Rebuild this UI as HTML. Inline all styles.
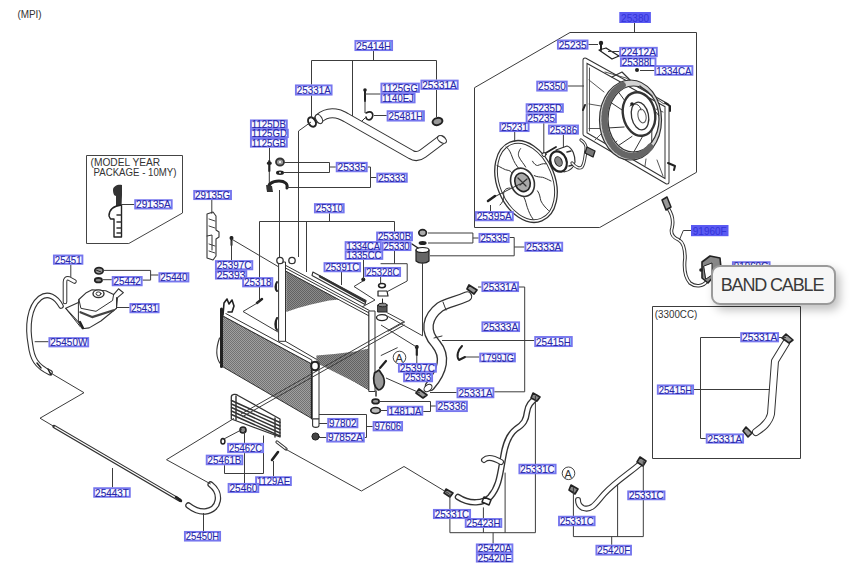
<!DOCTYPE html>
<html><head><meta charset="utf-8"><style>
html,body{margin:0;padding:0;background:#fff;width:852px;height:563px;overflow:hidden}
svg{position:absolute;left:0;top:0}
.lb{fill:#f8f8ff;stroke:#7676ee;stroke-width:1.9}
.lt{font-family:"Liberation Sans",sans-serif;font-size:11.2px;fill:#2626a8;stroke:#2626a8;stroke-width:0.12}
.lf{font-family:"Liberation Sans",sans-serif;font-size:11.2px;fill:#3434d8}
.ld{fill:none;stroke:#3c3c3c;stroke-width:1}
.pt{fill:none;stroke:#2a2a2a;stroke-width:1}
#band{position:absolute;left:711px;top:264.5px;width:121px;height:36.5px;border:2px solid #9a9a9a;border-radius:9px;background:#f6f6f6;
box-shadow:4px 5px 10px rgba(0,0,0,0.25);font-family:"Liberation Sans",sans-serif;font-size:18px;color:#3a3a3a;line-height:36px;text-align:center;letter-spacing:-1.15px;text-indent:-3px}
</style></head><body>
<svg width="852" height="563" viewBox="0 0 852 563">
<text x="17.4" y="18.4" textLength="24.3" lengthAdjust="spacingAndGlyphs" style="font-family:'Liberation Sans',sans-serif;font-size:10px;fill:#333">(MPI)</text>
<defs>
<pattern id="hat" width="2" height="2" patternUnits="userSpaceOnUse">
<rect width="2" height="2" fill="#8c8c8c"/>
<rect x="0" y="0" width="1" height="1" fill="#626262"/>
<rect x="1" y="1" width="1" height="1" fill="#626262"/>
</pattern>
<pattern id="hat2" width="2" height="2" patternUnits="userSpaceOnUse">
<rect width="2" height="2" fill="#a0a0a0"/>
<rect x="0" y="0" width="1" height="1" fill="#727272"/>
<rect x="1" y="1" width="1" height="1" fill="#727272"/>
</pattern>
</defs>
<g stroke-linejoin="round" stroke-linecap="round">
<!-- ===== upper hose 25414H ===== -->
<path d="M319 118.5C324 114 330 112.5 336 113.5C340 114 342 115.5 346 117.5L411 154.5C415 157 419 156.5 423 153.5L441 140" fill="none" stroke="#333" stroke-width="10"/>
<path d="M319 118.5C324 114 330 112.5 336 113.5C340 114 342 115.5 346 117.5L411 154.5C415 157 419 156.5 423 153.5L441 140" fill="none" stroke="#fff" stroke-width="7.9"/>
<ellipse cx="319" cy="119" rx="3" ry="5" transform="rotate(-30 319 119)" fill="#fff" stroke="#333" stroke-width="1.1"/>
<ellipse cx="442" cy="139.5" rx="3" ry="5" transform="rotate(-55 442 139.5)" fill="#fff" stroke="#333" stroke-width="1.1"/>
<ellipse cx="312" cy="122" rx="3.5" ry="5" transform="rotate(-30 312 122)" fill="#fff" stroke="#222" stroke-width="2"/>
<ellipse cx="437.5" cy="121.5" rx="5" ry="3.5" transform="rotate(-15 437.5 121.5)" fill="#999" stroke="#222" stroke-width="2"/>
<!-- 1125GG bolt & 25481H clip -->
<path d="M365 90V101" stroke="#222" stroke-width="2"/><circle cx="365" cy="90" r="1.8" fill="#222"/>
<path d="M366 113C372 110 374 114 372 118C370 121 366 120 366 117" fill="none" stroke="#222" stroke-width="1.6"/>
<path d="M365 118L362 121" stroke="#333" stroke-width="1"/>
<!-- 1125DB bolt, 25335 nut, washer, bracket -->
<path d="M269.3 161V171" stroke="#222" stroke-width="2.2"/><ellipse cx="269.3" cy="163.3" rx="2.6" ry="1.8" fill="#222"/>
<path d="M269.3 171V186" stroke="#333" stroke-width="1"/>
<ellipse cx="280" cy="162" rx="4" ry="3.5" fill="#999" stroke="#333" stroke-width="1.8"/><circle cx="280" cy="162" r="1.1" fill="#fff"/>
<ellipse cx="280" cy="172.7" rx="4" ry="2.2" fill="#222"/><circle cx="280" cy="172.7" r="0.9" fill="#fff"/>
<path d="M268.5 190C267.5 184 272 181 279 181C285 181 288 184 287 188" fill="none" stroke="#222" stroke-width="3"/>
<path d="M274 187C275 184.5 281 184 283.5 186.5" fill="none" stroke="#fff" stroke-width="1.4"/>
<path d="M266 185L267 192L273 192L272 186Z" fill="#333"/>
<!-- 29135A bracket (model year) -->
<path d="M113 190C113 186 118 184 122 185L122 195L121.5 207L116 206V196C114 196 113 193 113 190Z" fill="#333"/>
<path d="M109 216C109 210 113 206 121.5 205V237L114 237V219L110.5 219Z" fill="#fff" stroke="#222" stroke-width="1.4"/>
<path d="M117 215H121M117 222H121M117 228H121M117 233H121" stroke="#333" stroke-width="1.5"/>
<!-- 29135G bracket -->
<path d="M207 214L213 212L216 216V230L219 232V237L216 239V256L213 260L207 258Z" fill="#fff" stroke="#333" stroke-width="1.1"/>
<path d="M209 219L215 221M209 226L215 228M209 244L215 246M209 251L215 253" stroke="#444" stroke-width="1"/>
<path d="M207 236L212 235V250" fill="none" stroke="#333" stroke-width="1"/>
<!-- 25397C bolt -->
<path d="M231.5 237V245" stroke="#222" stroke-width="2"/><circle cx="231.5" cy="238" r="2" fill="#222"/>
<!-- ===== reservoir tank 25431 ===== -->
<path d="M65.7 308.3L78.4 302.5L78.9 299.5L86.3 292.7L92.1 289.8L105.8 290.7L113.6 294.6L118.5 288.8L123.4 292.7L117.5 297.6L116.5 308.3L100.9 321L89.2 327.9L82.3 328.8L78.4 322Z" fill="#fff" stroke="#333" stroke-width="1.1"/>
<path d="M78.9 299.5L80.9 308.3L96 311.3L112.6 300.5L113.6 294.6M78.4 302.5V322M65.7 308.3L80.4 326.9M116.5 297.6V308.3" fill="none" stroke="#333" stroke-width="1"/>
<path d="M80.4 312.2L92.1 317.1L113.6 310.3" fill="none" stroke="#444" stroke-width="2.2"/>
<path d="M80 322L83 328" stroke="#222" stroke-width="2.2"/>
<ellipse cx="98.5" cy="293.7" rx="5.5" ry="3.8" fill="#fff" stroke="#333" stroke-width="1.4"/>
<ellipse cx="98.5" cy="293.7" rx="2.5" ry="1.8" fill="none" stroke="#333" stroke-width="1"/>
<ellipse cx="99" cy="270.8" rx="4.2" ry="3.2" fill="#999" stroke="#222" stroke-width="1.7"/>
<path d="M96 270L101 272" stroke="#222" stroke-width="1"/>
<ellipse cx="98.4" cy="280.2" rx="3.6" ry="2.2" fill="#888" stroke="#222" stroke-width="1.8"/>
<!-- hose 25451 -->
<path d="M74.5 281.5L69 278.5Q65 277.5 65 282V302" fill="none" stroke="#333" stroke-width="4.6"/>
<path d="M74.5 281.5L69 278.5Q65 277.5 65 282V302" fill="none" stroke="#fff" stroke-width="2.6"/>
<!-- hose 25450W -->
<path d="M61 306C56 297 48 292 40 298C29 307 27 326 30.5 345C32 358 36 366 50 372.6" fill="none" stroke="#333" stroke-width="5.6"/>
<path d="M61 306C56 297 48 292 40 298C29 307 27 326 30.5 345C32 358 36 366 50 372.6" fill="none" stroke="#fff" stroke-width="3.4"/>
<path d="M37 363L41 368M48 369L51 375" stroke="#222" stroke-width="1.5"/>
<!-- rod 25443T -->
<path d="M54 426.5L180 500.3" stroke="#333" stroke-width="3.4"/>
<path d="M55 427L179 499.5" stroke="#fff" stroke-width="1.3"/>
<path d="M176 497L181 501" stroke="#222" stroke-width="2.5"/>
<!-- hose 25450H -->
<path d="M210.7 484.5C222 493 220 510 205 511.5C198 512 193 509 188.5 505.5" fill="none" stroke="#333" stroke-width="6.5"/>
<path d="M210.7 484.5C222 493 220 510 205 511.5C198 512 193 509 188.5 505.5" fill="none" stroke="#fff" stroke-width="4"/>
<!-- ===== radiator ===== -->
<path d="M285.5 268L369.2 313V390L285.5 341.3Z" fill="#fff" stroke="#333" stroke-width="1"/>
<path d="M286.2 271L339.5 299.5L329 300.5L311 304.5L298 308L286.2 312Z" fill="url(#hat)"/>
<path d="M316.4 355.4L334.4 354L355 351.6L368.6 348.5V389L316.4 363Z" fill="url(#hat)"/>
<path d="M285.5 265.3L369.2 310.4M285.5 271L369.2 316" stroke="#333" stroke-width="1"/>
<path d="M279 262H285.5V341.3H279Z" fill="#fff" stroke="#333" stroke-width="1"/>
<path d="M369.2 311H375V391.5H369.2Z" fill="#fff" stroke="#333" stroke-width="1"/>
<circle cx="280" cy="260.5" r="3.2" fill="#fff" stroke="#333" stroke-width="1.3"/>
<circle cx="292" cy="260.5" r="3.2" fill="#fff" stroke="#333" stroke-width="1.3"/>
<path d="M277 282C275 285 275 289 277 291M277 318C275 322 275 327 277 330" fill="#333" stroke="#222" stroke-width="2"/>
<!-- ===== condenser ===== -->
<path d="M223 316L311.8 364V418.5L222 366.3Z" fill="url(#hat2)" stroke="#333" stroke-width="1"/>
<path d="M223 312L311.8 360V364L223 316Z" fill="#fff" stroke="#333" stroke-width="1"/>
<path d="M221.5 309V366.5" stroke="#222" stroke-width="3"/>
<path d="M223 315L224 303L227 299L229 304L232 300L234 306L232 312L228 312" fill="#fff" stroke="#222" stroke-width="1.6"/>
<path d="M219.5 338C216 348 216 358 220.5 364" fill="none" stroke="#333" stroke-width="1.1"/>
<path d="M311.8 362H319V419H311.8Z" fill="#fff" stroke="#333" stroke-width="1"/>
<path d="M311.8 364V418" stroke="#222" stroke-width="1.8"/>
<ellipse cx="315" cy="366" rx="3.8" ry="4.2" fill="#fff" stroke="#222" stroke-width="2"/>
<!-- 25391C strip -->
<path d="M312.9 272L366 300.5L365 304.5L312 275.5Z" fill="#fff" stroke="#333" stroke-width="1.1"/>
<path d="M320 276.5L365 301.5" stroke="#333" stroke-width="2.4"/>
<!-- cap/neck 25330 & 25328C -->
<ellipse cx="382" cy="285.6" rx="3.4" ry="2.1" fill="#fff" stroke="#222" stroke-width="1.6"/>
<path d="M378 291H387L388 296H378Z" fill="#fff" stroke="#222" stroke-width="1.2"/>
<path d="M382.5 299V305" stroke="#222" stroke-width="1"/>
<path d="M378 305H387V312H378Z" fill="#555" stroke="#222" stroke-width="1"/>
<ellipse cx="382.5" cy="305" rx="4.5" ry="1.8" fill="#888" stroke="#222" stroke-width="1"/>
<ellipse cx="382" cy="317.6" rx="5.5" ry="3" fill="#fff" stroke="#222" stroke-width="1.3"/>

<circle cx="363.3" cy="279.6" r="2" fill="#222"/>
<!-- 25318 bolt -->
<path d="M257 303L262 299" stroke="#222" stroke-width="2.5"/>
<!-- right nuts for 25335 / 25333A -->
<ellipse cx="422.6" cy="232.8" rx="3.8" ry="3.2" fill="#aaa" stroke="#222" stroke-width="1.7"/>
<ellipse cx="422.6" cy="243" rx="4" ry="2" fill="#222"/>
<path d="M416 250H429V261C426 264 419 264 416 261Z" fill="#666" stroke="#222" stroke-width="1.2"/>
<ellipse cx="422.5" cy="250" rx="6.5" ry="2.5" fill="#fff" stroke="#222" stroke-width="1.2"/>
<path d="M412 244L418 248" stroke="#222" stroke-width="1.5"/>
<!-- lower radiator stuff -->
<path d="M380 368L386 361" stroke="#222" stroke-width="2.2"/>
<path d="M374.5 373C372.5 380 374 387 378.5 390C383.5 389 386 383 383 376L379 370Z" fill="#999" stroke="#222" stroke-width="1.7"/>
<path d="M376 391V396" stroke="#333" stroke-width="1.5"/>
<ellipse cx="375.6" cy="401.4" rx="3.5" ry="2.3" fill="#999" stroke="#222" stroke-width="1.7"/>
<ellipse cx="375.6" cy="410.5" rx="4.8" ry="3" fill="#bbb" stroke="#222" stroke-width="1.7"/>
<circle cx="315.5" cy="436.5" r="3.6" fill="#444" stroke="#222" stroke-width="1"/>
<path d="M312.6 419V425.5C312.6 428 319 428 319 425.5V419Z" fill="#fff" stroke="#333" stroke-width="1.1"/>
<!-- ===== lower hose 25415H ===== -->
<path d="M467 296.5C455 302 448 302 440 307C427 317 424 331 436 344C446 356 443 371 430 386" fill="none" stroke="#333" stroke-width="10.6"/>
<path d="M467 296.5C455 302 448 302 440 307C427 317 424 331 436 344C446 356 443 371 430 386" fill="none" stroke="#fff" stroke-width="8"/>
<path d="M443 302L446 310M434 338L442 336" stroke="#333" stroke-width="1"/>
<ellipse cx="428" cy="388" rx="3" ry="4.5" transform="rotate(50 428 388)" fill="#fff" stroke="#333" stroke-width="1.1"/>
<path d="M469 285L477 290L474 294L467 289Z" fill="#999" stroke="#222" stroke-width="1.7"/>
<path d="M419 389L427 395L423 398L416 393Z" fill="#999" stroke="#222" stroke-width="1.7"/>
<path d="M416.8 346V355" stroke="#222" stroke-width="2.2"/><circle cx="416.8" cy="347" r="2" fill="#222"/>
<path d="M462 346C458 350 456 356 459 360L465 357" fill="none" stroke="#222" stroke-width="2"/>
<!-- ===== oil cooler 25460 ===== -->
<path d="M231.3 397C231.3 394 236 393.5 238 395.5L280 419V437L231.3 419Z" fill="#fff" stroke="#333" stroke-width="1.3"/>
<path d="M231.5 400.5L280 422.5M231.5 404L280 426M231.5 407.5L280 429.5M231.5 411L280 433M231.5 414.5L280 436" stroke="#333" stroke-width="1.5"/>
<path d="M275 418V437M236 396V420" stroke="#333" stroke-width="1.4"/>
<ellipse cx="243" cy="430" rx="3" ry="3" fill="#888" stroke="#222" stroke-width="1.6"/>
<ellipse cx="222.9" cy="441.3" rx="2" ry="2.8" fill="#fff" stroke="#222" stroke-width="1.5"/>
<path d="M277 442L286 449" stroke="#333" stroke-width="3.2"/><path d="M277 442L286 449" stroke="#fff" stroke-width="1.2"/>
<path d="M272 460L278 452" stroke="#222" stroke-width="2.6"/>
<!-- ===== fan enclosure ===== -->
<path d="M585 60L667 105.5V182L585 134Z" fill="none" stroke="#333" stroke-width="5"/>
<path d="M585 60L667 105.5V182L585 134Z" fill="none" stroke="#fff" stroke-width="3"/>
<path d="M589.5 68V131M589 128.5H606M595 140L604 131M612 146L617 141M630 157L633 152M645 166L646 159M657 160L663 176M589 80L604 92M663 112L656 109M589 104L601 106" fill="none" stroke="#444" stroke-width="0.9"/>
<path d="M605 72L626 78L664 104" fill="none" stroke="#444" stroke-width="0.9"/>
<path d="M599.5 120A31 40 0 1 0 661.5 120A31 40 0 1 0 599.5 120ZM608 119A25.5 33 0 1 0 659 119A25.5 33 0 1 0 608 119Z" fill="#d4d4d4" fill-rule="evenodd" stroke="#333" stroke-width="1.2"/>
<path d="M622.6 85.2 L620.8 86.2 L619.1 87.3 L617.4 88.5 L615.8 90.0 L614.3 91.5 L612.9 93.2 L611.6 95.1 L610.3 97.0 L609.2 99.1 L608.2 101.2 L607.3 103.5 L606.5 105.8 L605.8 108.2 L605.3 110.7 L604.9 113.2 L604.7 115.7 L604.5 118.2 L604.5 120.8 L604.7 123.3 L604.9 125.8 L605.3 128.3 L605.8 130.8 L606.5 133.2 L607.3 135.5 L608.2 137.8 L609.2 139.9 L610.3 142.0 L611.6 143.9 L612.9 145.8 L614.3 147.5 L615.8 149.0 L617.4 150.5 L619.1 151.7 L620.8 152.8 L622.6 153.8 L624.4 154.6 L626.3 155.2 L628.2 155.6 L630.1 155.9 L632.0 156.0 L633.9 155.9 L635.8 155.6 L637.7 155.2 L639.6 154.6 L641.4 153.8 L643.2 152.8 L644.9 151.7 L646.6 150.5 L648.2 149.0 L649.7 147.5 L651.1 145.8" fill="none" stroke="#666" stroke-width="6.5" stroke-dasharray="1.3 2.4"/>
<path d="M622.5 110.3L611.3 102.8M624.1 127.0L608.9 127.9M632.0 136.4L618.4 145.6M642.1 137.3L633.8 152.0M651.9 127.0L651.7 142.1M653.0 108.5L658.9 115.7M625.7 101.9L618.6 92.2" stroke="#333" stroke-width="1"/>
<ellipse cx="639" cy="114" rx="16" ry="22" transform="rotate(-12 639 114)" fill="#fff" stroke="#333" stroke-width="2.4"/>
<ellipse cx="640" cy="116" rx="8.5" ry="14" transform="rotate(-12 640 116)" fill="#fff" stroke="#333" stroke-width="1.3"/>
<ellipse cx="642" cy="116" rx="4" ry="7" transform="rotate(-12 642 116)" fill="none" stroke="#555" stroke-width="1"/>
<path d="M630 106C634 102 640 104 641 110" fill="none" stroke="#333" stroke-width="1"/>
<circle cx="632" cy="104" r="1.8" fill="#222"/>
<path d="M612 77L622 72L630 80M640 86L652 96" fill="none" stroke="#333" stroke-width="1.2"/>
<path d="M665 103L670 106V111M668 163L675 166L674 170" fill="none" stroke="#222" stroke-width="2"/>
<path d="M599 50L606 48L619 56L612 59Z" fill="#fff" stroke="#222" stroke-width="1.3"/>
<path d="M601 42V50" stroke="#222" stroke-width="2"/><circle cx="601" cy="43" r="2.2" fill="#222"/>
<circle cx="637" cy="70" r="2" fill="#222"/>
<path d="M585 105L583 110" stroke="#222" stroke-width="2"/>
<!-- ===== fan 25231 ===== -->
<ellipse cx="526" cy="181.5" rx="29" ry="42.5" transform="rotate(-22 526 181.5)" fill="#fff" stroke="#333" stroke-width="1.3"/>
<ellipse cx="526" cy="181.5" rx="26.3" ry="39.8" transform="rotate(-22 526 181.5)" fill="none" stroke="#333" stroke-width="1"/>
<path d="M506.3 146.9C510 150 511 154 512.2 157C514 162 516 165 519 168.8M520.6 148.6C518 152 518 155 519 157C521 161 524 164 525.7 167.1M532.5 161.2C534 164 536 165.5 537.5 165.5C540 165 542 163 546 163.8M534.2 175.6C537 177 540 177 542.6 177.3C545 178 547 179 551 181M537.5 190.8C540 194 540 198 540.9 200.9C543 205 545 207 548.5 210.5M524 197.5C526 201 526 204 527.4 207.7C529 212 530 215 533 219M510 188C505 188 503 191 503.8 196C504 200 502 203 500 205M497 165.5C501 167 504 170 508.8 170.5C511 171 512 173 513 175" fill="none" stroke="#333" stroke-width="1"/>
<ellipse cx="522.5" cy="182.3" rx="11.5" ry="14.5" transform="rotate(-22 522.5 182.3)" fill="#fff" stroke="#333" stroke-width="1.6"/>
<ellipse cx="522.5" cy="182.3" rx="7.5" ry="9.5" transform="rotate(-22 522.5 182.3)" fill="#aaa" stroke="#222" stroke-width="1.6"/>
<path d="M518 178L526 186M520 185L527 179" stroke="#333" stroke-width="1.2"/>
<path d="M490 199L520 184" stroke="#333" stroke-width="1"/>
<path d="M488 201L495 196" stroke="#222" stroke-width="2.5"/>
<!-- motor 25386 -->
<path d="M556 150L567 146C573 148 575 156 575 162C574 167 570 171 564 172Z" fill="#fff" stroke="#333" stroke-width="1.2"/>
<ellipse cx="558.5" cy="161.5" rx="8" ry="10.5" transform="rotate(-22 558.5 161.5)" fill="#fff" stroke="#222" stroke-width="2.2"/>
<ellipse cx="558.5" cy="161.5" rx="3.5" ry="5" transform="rotate(-22 558.5 161.5)" fill="#888" stroke="#222" stroke-width="1"/>
<path d="M567 152L571 151M569 166L573 165" stroke="#333" stroke-width="1.5"/>
<path d="M544 154L556 147" stroke="#222" stroke-width="1.8"/><circle cx="544" cy="154.5" r="2" fill="#fff" stroke="#222" stroke-width="1"/>
<path d="M572 163C576 168 580 169 582 167C585 163 585 155 586 150C587 146 584 142 581 140" fill="none" stroke="#333" stroke-width="3.2"/>
<path d="M572 163C576 168 580 169 582 167C585 163 585 155 586 150C587 146 584 142 581 140" fill="none" stroke="#fff" stroke-width="1.4"/>
<path d="M587 147L595 151L593 157L585 153Z" fill="#777" stroke="#222" stroke-width="1.3"/>
<!-- cable 91960F -->
<path d="M668 208C672 214 674 220 672 228C670 234 674 238 679 240C684 243 685 250 685 258C684 266 684 276 690 283C695 287 703 287 707 281" fill="none" stroke="#333" stroke-width="3.6"/>
<path d="M668 208C672 214 674 220 672 228C670 234 674 238 679 240C684 243 685 250 685 258C684 266 684 276 690 283C695 287 703 287 707 281" fill="none" stroke="#fff" stroke-width="1.6"/>
<path d="M662 200L667 197L671 207L666 210Z" fill="#999" stroke="#222" stroke-width="1.5"/>
<path d="M702 262L710 256L720 258L721 268L714 276L708 283L702 278Z" fill="#888" stroke="#222" stroke-width="1.6"/>
<path d="M704 266L712 263V275L706 279Z" fill="#fff" stroke="#222" stroke-width="1"/>
<circle cx="701" cy="270" r="1.8" fill="#222"/>
<!-- 3300CC hose -->
<path d="M786 343L775 361L771 414C769 423 762 428 756 432" fill="none" stroke="#333" stroke-width="8"/>
<path d="M786 343L775 361L771 414C769 423 762 428 756 432" fill="none" stroke="#fff" stroke-width="6"/>
<path d="M786 334L793 340L789 343L782 338Z" fill="#999" stroke="#222" stroke-width="1.6"/>
<path d="M746 427L752 433L748 437L743 431Z" fill="#999" stroke="#222" stroke-width="1.6"/>
<!-- ===== 25420A hoses ===== -->
<path id="h20a" d="M536 398C531 402 528 405 527 412C526 420 524 424 516 429C508 435 505 445 503 458C500 475 499 487 490 497C484 503 470 505 458 497" fill="none" stroke="#333" stroke-width="6.5"/>
<path d="M536 398C531 402 528 405 527 412C526 420 524 424 516 429C508 435 505 445 503 458C500 475 499 487 490 497C484 503 470 505 458 497" fill="none" stroke="#fff" stroke-width="3.8"/>
<path d="M501 462C494 458 488 456 484 460" fill="none" stroke="#333" stroke-width="6"/>
<path d="M501 462C494 458 488 456 484 460" fill="none" stroke="#fff" stroke-width="3.8"/>
<path d="M533 393L540 397L537 401L531 398Z" fill="#888" stroke="#222" stroke-width="1.6"/>
<path d="M446 489L453 493L450 497L444 493Z" fill="#888" stroke="#222" stroke-width="1.6"/>
<path d="M484 497L491 500L489 505L482 502Z" fill="#fff" stroke="#222" stroke-width="1.5"/>
<!-- ===== 25420F hose ===== -->
<path d="M640 464C628 474 615 482 604 494C596 503 592 511 583 508C579 506 578 503 578 500" fill="none" stroke="#333" stroke-width="6"/>
<path d="M640 464C628 474 615 482 604 494C596 503 592 511 583 508C579 506 578 503 578 500" fill="none" stroke="#fff" stroke-width="3.8"/>
<path d="M640 457L646 461L643 466L637 462Z" fill="#888" stroke="#222" stroke-width="1.6"/>
<path d="M571 485L578 489L575 494L569 490Z" fill="#888" stroke="#222" stroke-width="1.6"/>
</g>

<g class="ld">
<!-- 25414H bracket -->
<path d="M373.5 51V60.5M311.5 60.5H436.5M311.5 60.5V84.5M311.5 95.5V118M352.5 60.5V116M436.5 60.5V79.7M436.5 89.8V117"/>
<!-- 1125GG bolt / 25481H -->
<path d="M365 94H380.5M365 100V113M374 115.5H386.7"/>
<!-- clamp to radiator line -->
<path d="M311 122L298.5 131V257"/>
<!-- 1125DB -->
<path d="M269.5 147.6V160"/>
<!-- 25335 / 25333 -->
<path d="M284 162.5H329.5V172.5H284M329.5 167H335.8M367.6 167H370.5V187.5H287M370.5 177.5H376.4"/>
<path d="M279.5 190V257"/>
<!-- 25310 -->
<path d="M329.5 213.3V221.5M259.5 221.5H394.5M259.5 221.5V300M306.5 221.5V272M394.5 221.5V231.6M394.5 251V263.7M380.6 263.7H407.2V281L387.3 291.6M380.6 277V283M341.5 272V285"/>
<!-- 25335 second / 25333A -->
<path d="M428 233H472.9V243H428M472.9 238H478.6M509.5 237.5H514.2V255.8H430M514.2 247H524.5"/>
<path d="M422.5 262V335.8L384.5 314.5"/>
<!-- 29135G / 29135A -->
<path d="M211.8 200V213.8M121.5 204.5H134.3"/>
<!-- 25397C left -->
<path d="M231.5 241V260.2M231.5 239L278 266.5"/>
<!-- 1334CA/1335CC -->
<path d="M363.5 259.8V279"/>
<path d="M363 281L354 286.5L375 300L362 307"/>
<!-- 25318 -->
<path d="M259 302L243 311.5L279 332.6"/>
<!-- 25451 / 25440 / 25442 / 25431 / 25450W -->
<path d="M70.8 264.7V277M103 270.4H150.6V280.1H142.6M150.6 275H158.5M103 279.7H111.8M116.4 307.5H129.5M34.7 341.7H48.5"/>
<!-- 25443T / 25450H zigzag -->
<path d="M50 372.6L84 392.7L40 418.2L54 426.5"/>
<path d="M112.5 468V487.3M203.5 513V531"/>
<path d="M210.7 484L166.5 459.7L234 418.4"/>
<!-- oil cooler leaders -->
<path d="M285 448.8L361.4 491L404 466.5L449 493.7"/>
<path d="M222.6 439.7L242 429.5"/>
<path d="M244.5 431V442.9M244.5 453.1V483M224.5 465.2V473.5H263.5V435.5"/>
<path d="M273.5 461V476.3"/>
<!-- condenser to right leaders -->
<path d="M241 414L403 322M242 417L404.5 324.8M381 325L416.5 347M386.6 312.4L404.7 322L387.7 331.5"/>
<!-- 97802 / 97606 / 97852A -->
<path d="M319 414.5H366.5V437.5H364.7M366.5 426.5H372.7M319 423.5H327.3M319 437.5H326.3"/>
<!-- 1481JA / 25336 -->
<path d="M380 401.5H430.5V411.5H423.2M430.5 406H435.8M380 410.5H387"/>
<!-- 25397C right -->
<path d="M416.8 355V363M386 378L420 393M380.8 355.6L397.6 347.6"/>
<!-- 25415H etc -->
<path d="M442 340.5H534.3M519 287H524.7V391.8H494.3M478 287H481.5M465 357H479.3M430 392.5H456.6"/>
<!-- fan enclosure -->
<path d="M570 32.5H696.5V172.3L599.7 227.5H474.5V87.7Z"/>
<path d="M634.5 23V32.5M588.4 44.5H598M608 51.5H619.3M640 70.5H654.4M567.6 86H584M543.8 123.3V153.6M563.4 134.6V147.7M514.7 132V141.8M490.5 205V211.2"/>
<!-- 91960F -->
<path d="M691 230.5H683.3L679.4 240"/>
<!-- 3300CC box -->
<path d="M652.5 306.5H800.5V458.5H652.5Z"/>
<path d="M740.3 337.5H700.5V438.5H705.8M694 389.5H770M779 337.5H786"/>
<!-- 25420A / 25420F -->
<path d="M449.9 494V532.7H535.4V396M483.4 507.4V518.1M483.4 527.9V532.7M505.1 472.6V532.7M493.1 532.7V543.5"/>
<path d="M573.4 487V536.6H643.3V461.2M617.6 484V536.6M611.7 536.6V544.8"/>
</g>
<circle cx="568.5" cy="473.3" r="6.3" fill="#fff" stroke="#444" stroke-width="1"/>
<text x="564.6" y="477.6" style="font-family:'Liberation Sans',sans-serif;font-size:11px;fill:#333">A</text>
<circle cx="399.5" cy="357.5" r="6.3" fill="#fff" stroke="#444" stroke-width="1"/>
<text x="395.6" y="361.8" style="font-family:'Liberation Sans',sans-serif;font-size:11px;fill:#333">A</text>
<!-- model year box -->
<path d="M86.5 155.5H182.5V213L128.8 243.5H86.5Z" fill="none" stroke="#444" stroke-width="1"/>
<text x="90.5" y="165.5" style="font-family:'Liberation Sans',sans-serif;font-size:10.2px;fill:#333">(MODEL YEAR</text>
<text x="93.5" y="175.7" textLength="83" lengthAdjust="spacingAndGlyphs" style="font-family:'Liberation Sans',sans-serif;font-size:10.2px;fill:#333">PACKAGE - 10MY)</text>
<text x="654.8" y="318.2" textLength="42.5" lengthAdjust="spacingAndGlyphs" style="font-family:'Liberation Sans',sans-serif;font-size:10px;fill:#333">(3300CC)</text>

<rect x="355.4" y="40.9" width="36.7" height="9.2" class="lb"/><text x="356.3" y="49.5" textLength="34.9" lengthAdjust="spacingAndGlyphs" class="lt">25414H</text><rect x="295.9" y="85.4" width="35.7" height="9.2" class="lb"/><text x="296.8" y="94.0" textLength="33.9" lengthAdjust="spacingAndGlyphs" class="lt">25331A</text><rect x="381.4" y="83.6" width="37.5" height="8.3" class="lb"/><text x="382.3" y="91.8" textLength="35.7" lengthAdjust="spacingAndGlyphs" class="lt">1125GG</text><rect x="381.4" y="93.9" width="33.2" height="8.5" class="lb"/><text x="382.3" y="102.2" textLength="31.4" lengthAdjust="spacingAndGlyphs" class="lt">1140EJ</text><rect x="421.4" y="80.6" width="36.3" height="8.3" class="lb"/><text x="422.3" y="88.8" textLength="34.5" lengthAdjust="spacingAndGlyphs" class="lt">25331A</text><rect x="387.6" y="111.2" width="36.3" height="9.4" class="lb"/><text x="388.5" y="119.9" textLength="34.5" lengthAdjust="spacingAndGlyphs" class="lt">25481H</text><rect x="250.9" y="120.4" width="35.9" height="7.5" class="lb"/><text x="251.8" y="128.2" textLength="34.1" lengthAdjust="spacingAndGlyphs" class="lt">1125DB</text><rect x="250.9" y="129.7" width="36.9" height="7.4" class="lb"/><text x="251.8" y="137.4" textLength="35.1" lengthAdjust="spacingAndGlyphs" class="lt">1125GD</text><rect x="250.9" y="138.9" width="35.9" height="7.8" class="lb"/><text x="251.8" y="146.8" textLength="34.1" lengthAdjust="spacingAndGlyphs" class="lt">1125GB</text><rect x="336.7" y="162.8" width="30.0" height="8.5" class="lb"/><text x="337.6" y="171.1" textLength="28.2" lengthAdjust="spacingAndGlyphs" class="lt">25335</text><rect x="377.3" y="173.6" width="29.5" height="8.2" class="lb"/><text x="378.2" y="181.7" textLength="27.7" lengthAdjust="spacingAndGlyphs" class="lt">25333</text><rect x="135.2" y="200.2" width="36.5" height="8.3" class="lb"/><text x="136.1" y="208.4" textLength="34.7" lengthAdjust="spacingAndGlyphs" class="lt">29135A</text><rect x="194.2" y="190.9" width="36.8" height="8.2" class="lb"/><text x="195.1" y="199.0" textLength="35.0" lengthAdjust="spacingAndGlyphs" class="lt">29135G</text><rect x="314.9" y="204.1" width="28.8" height="8.3" class="lb"/><text x="315.8" y="212.2" textLength="27.0" lengthAdjust="spacingAndGlyphs" class="lt">25310</text><rect x="377.1" y="232.5" width="34.9" height="7.8" class="lb"/><text x="378.0" y="240.4" textLength="33.1" lengthAdjust="spacingAndGlyphs" class="lt">25330B</text><rect x="345.6" y="242.1" width="35.2" height="7.6" class="lb"/><text x="346.5" y="249.9" textLength="33.4" lengthAdjust="spacingAndGlyphs" class="lt">1334CA</text><rect x="382.6" y="242.5" width="27.9" height="7.6" class="lb"/><text x="383.5" y="250.3" textLength="26.1" lengthAdjust="spacingAndGlyphs" class="lt">25330</text><rect x="345.6" y="251.5" width="36.7" height="7.4" class="lb"/><text x="346.5" y="259.2" textLength="34.9" lengthAdjust="spacingAndGlyphs" class="lt">1335CC</text><rect x="479.5" y="233.9" width="29.1" height="8.2" class="lb"/><text x="480.4" y="242.0" textLength="27.3" lengthAdjust="spacingAndGlyphs" class="lt">25335</text><rect x="525.4" y="242.7" width="36.8" height="8.2" class="lb"/><text x="526.3" y="250.8" textLength="35.0" lengthAdjust="spacingAndGlyphs" class="lt">25333A</text><rect x="215.9" y="261.1" width="36.4" height="8.2" class="lb"/><text x="216.8" y="269.2" textLength="34.6" lengthAdjust="spacingAndGlyphs" class="lt">25397C</text><rect x="215.9" y="271.1" width="30.4" height="7.5" class="lb"/><text x="216.8" y="278.9" textLength="28.6" lengthAdjust="spacingAndGlyphs" class="lt">25393</text><rect x="324.5" y="263.1" width="35.6" height="8.2" class="lb"/><text x="325.4" y="271.2" textLength="33.8" lengthAdjust="spacingAndGlyphs" class="lt">25391C</text><rect x="365.3" y="267.9" width="34.8" height="8.1" class="lb"/><text x="366.2" y="275.9" textLength="33.0" lengthAdjust="spacingAndGlyphs" class="lt">25328C</text><rect x="243.1" y="278.1" width="29.2" height="8.3" class="lb"/><text x="244.0" y="286.2" textLength="27.4" lengthAdjust="spacingAndGlyphs" class="lt">25318</text><rect x="53.9" y="255.5" width="28.5" height="8.3" class="lb"/><text x="54.8" y="263.6" textLength="26.7" lengthAdjust="spacingAndGlyphs" class="lt">25451</text><rect x="159.4" y="273.2" width="29.0" height="8.3" class="lb"/><text x="160.3" y="281.4" textLength="27.2" lengthAdjust="spacingAndGlyphs" class="lt">25440</text><rect x="112.7" y="277.0" width="29.0" height="8.3" class="lb"/><text x="113.6" y="285.1" textLength="27.2" lengthAdjust="spacingAndGlyphs" class="lt">25442</text><rect x="130.4" y="304.0" width="28.2" height="8.3" class="lb"/><text x="131.3" y="312.1" textLength="26.4" lengthAdjust="spacingAndGlyphs" class="lt">25431</text><rect x="49.4" y="338.1" width="38.8" height="8.3" class="lb"/><text x="50.3" y="346.2" textLength="37.0" lengthAdjust="spacingAndGlyphs" class="lt">25450W</text><rect x="482.4" y="282.4" width="35.7" height="8.7" class="lb"/><text x="483.3" y="290.8" textLength="33.9" lengthAdjust="spacingAndGlyphs" class="lt">25331A</text><rect x="482.4" y="322.3" width="36.7" height="8.8" class="lb"/><text x="483.3" y="330.7" textLength="34.9" lengthAdjust="spacingAndGlyphs" class="lt">25333A</text><rect x="535.2" y="337.0" width="36.6" height="9.1" class="lb"/><text x="536.1" y="345.6" textLength="34.8" lengthAdjust="spacingAndGlyphs" class="lt">25415H</text><rect x="480.2" y="353.6" width="34.7" height="7.8" class="lb"/><text x="481.1" y="361.5" textLength="32.9" lengthAdjust="spacingAndGlyphs" class="lt">1799JG</text><rect x="398.9" y="363.9" width="37.0" height="7.8" class="lb"/><text x="399.8" y="371.8" textLength="35.2" lengthAdjust="spacingAndGlyphs" class="lt">25397C</text><rect x="404.1" y="373.5" width="28.0" height="7.8" class="lb"/><text x="405.0" y="381.4" textLength="26.2" lengthAdjust="spacingAndGlyphs" class="lt">25393</text><rect x="457.5" y="388.2" width="35.9" height="9.1" class="lb"/><text x="458.4" y="396.8" textLength="34.1" lengthAdjust="spacingAndGlyphs" class="lt">25331A</text><rect x="387.9" y="406.7" width="34.4" height="8.1" class="lb"/><text x="388.8" y="414.8" textLength="32.6" lengthAdjust="spacingAndGlyphs" class="lt">1481JA</text><rect x="436.7" y="401.6" width="30.2" height="9.5" class="lb"/><text x="437.6" y="410.4" textLength="28.4" lengthAdjust="spacingAndGlyphs" class="lt">25336</text><rect x="328.2" y="418.9" width="29.2" height="8.4" class="lb"/><text x="329.1" y="427.1" textLength="27.4" lengthAdjust="spacingAndGlyphs" class="lt">97802</text><rect x="373.6" y="422.0" width="28.5" height="8.4" class="lb"/><text x="374.5" y="430.2" textLength="26.7" lengthAdjust="spacingAndGlyphs" class="lt">97606</text><rect x="327.2" y="433.2" width="36.6" height="8.4" class="lb"/><text x="328.1" y="441.4" textLength="34.8" lengthAdjust="spacingAndGlyphs" class="lt">97852A</text><rect x="228.1" y="443.8" width="35.0" height="8.4" class="lb"/><text x="229.0" y="452.0" textLength="33.2" lengthAdjust="spacingAndGlyphs" class="lt">25462C</text><rect x="206.7" y="455.6" width="35.6" height="8.7" class="lb"/><text x="207.6" y="463.9" textLength="33.8" lengthAdjust="spacingAndGlyphs" class="lt">25461B</text><rect x="256.1" y="477.2" width="34.8" height="7.9" class="lb"/><text x="257.0" y="485.1" textLength="33.0" lengthAdjust="spacingAndGlyphs" class="lt">1129AE</text><rect x="228.6" y="483.9" width="29.7" height="8.2" class="lb"/><text x="229.5" y="492.0" textLength="27.9" lengthAdjust="spacingAndGlyphs" class="lt">25460</text><rect x="94.2" y="488.2" width="35.6" height="8.6" class="lb"/><text x="95.1" y="496.5" textLength="33.8" lengthAdjust="spacingAndGlyphs" class="lt">25443T</text><rect x="184.9" y="531.9" width="35.2" height="8.7" class="lb"/><text x="185.8" y="540.2" textLength="33.4" lengthAdjust="spacingAndGlyphs" class="lt">25450H</text><rect x="519.4" y="464.7" width="36.2" height="8.6" class="lb"/><text x="520.3" y="473.0" textLength="34.4" lengthAdjust="spacingAndGlyphs" class="lt">25331C</text><rect x="433.9" y="509.9" width="36.2" height="8.2" class="lb"/><text x="434.8" y="518.0" textLength="34.4" lengthAdjust="spacingAndGlyphs" class="lt">25331C</text><rect x="465.7" y="519.0" width="35.6" height="8.0" class="lb"/><text x="466.6" y="527.0" textLength="33.8" lengthAdjust="spacingAndGlyphs" class="lt">25423H</text><rect x="476.8" y="544.4" width="35.6" height="7.9" class="lb"/><text x="477.7" y="552.4" textLength="33.8" lengthAdjust="spacingAndGlyphs" class="lt">25420A</text><rect x="476.8" y="554.1" width="35.6" height="7.5" class="lb"/><text x="477.7" y="561.9" textLength="33.8" lengthAdjust="spacingAndGlyphs" class="lt">25420E</text><rect x="628.2" y="491.4" width="36.3" height="7.9" class="lb"/><text x="629.1" y="499.4" textLength="34.5" lengthAdjust="spacingAndGlyphs" class="lt">25331C</text><rect x="559.0" y="516.7" width="35.6" height="8.6" class="lb"/><text x="559.9" y="525.0" textLength="33.8" lengthAdjust="spacingAndGlyphs" class="lt">25331C</text><rect x="596.4" y="545.7" width="34.6" height="8.9" class="lb"/><text x="597.3" y="554.1" textLength="32.8" lengthAdjust="spacingAndGlyphs" class="lt">25420F</text><rect x="619.3" y="12.0" width="31.6" height="11.0" fill="#5a5af2"/><text x="621.1" y="21.5" textLength="28.0" lengthAdjust="spacingAndGlyphs" class="lf">25380</text><rect x="557.9" y="40.5" width="29.6" height="8.2" class="lb"/><text x="558.8" y="48.6" textLength="27.8" lengthAdjust="spacingAndGlyphs" class="lt">25235</text><rect x="620.2" y="47.8" width="36.6" height="8.4" class="lb"/><text x="621.1" y="56.0" textLength="34.8" lengthAdjust="spacingAndGlyphs" class="lt">22412A</text><rect x="620.9" y="58.3" width="34.6" height="7.7" class="lb"/><text x="621.8" y="66.2" textLength="32.8" lengthAdjust="spacingAndGlyphs" class="lt">25388L</text><rect x="655.3" y="66.1" width="37.1" height="8.7" class="lb"/><text x="656.2" y="74.5" textLength="35.3" lengthAdjust="spacingAndGlyphs" class="lt">1334CA</text><rect x="537.2" y="81.6" width="29.5" height="9.0" class="lb"/><text x="538.1" y="90.1" textLength="27.7" lengthAdjust="spacingAndGlyphs" class="lt">25350</text><rect x="526.6" y="104.2" width="36.3" height="7.7" class="lb"/><text x="527.5" y="112.0" textLength="34.5" lengthAdjust="spacingAndGlyphs" class="lt">25235D</text><rect x="526.6" y="114.2" width="29.3" height="8.2" class="lb"/><text x="527.5" y="122.3" textLength="27.5" lengthAdjust="spacingAndGlyphs" class="lt">25235</text><rect x="500.3" y="122.9" width="28.3" height="8.2" class="lb"/><text x="501.2" y="131.0" textLength="26.5" lengthAdjust="spacingAndGlyphs" class="lt">25231</text><rect x="548.9" y="125.5" width="29.1" height="8.2" class="lb"/><text x="549.8" y="133.6" textLength="27.3" lengthAdjust="spacingAndGlyphs" class="lt">25386</text><rect x="475.8" y="212.1" width="37.0" height="8.2" class="lb"/><text x="476.7" y="220.2" textLength="35.2" lengthAdjust="spacingAndGlyphs" class="lt">25395A</text><rect x="691.0" y="225.0" width="37.5" height="11.2" fill="#5a5af2"/><text x="692.8" y="234.6" textLength="33.9" lengthAdjust="spacingAndGlyphs" class="lf">91960F</text><rect x="732.9" y="262.2" width="36.7" height="8.4" class="lb"/><text x="733.8" y="270.4" textLength="34.9" lengthAdjust="spacingAndGlyphs" class="lt">91960G</text><rect x="741.2" y="333.1" width="36.9" height="8.3" class="lb"/><text x="742.1" y="341.2" textLength="35.1" lengthAdjust="spacingAndGlyphs" class="lt">25331A</text><rect x="657.8" y="385.4" width="35.3" height="8.4" class="lb"/><text x="658.7" y="393.6" textLength="33.5" lengthAdjust="spacingAndGlyphs" class="lt">25415H</text><rect x="706.7" y="434.4" width="36.4" height="8.3" class="lb"/><text x="707.6" y="442.6" textLength="34.6" lengthAdjust="spacingAndGlyphs" class="lt">25331A</text>
</svg>
<div id="band">BAND CABLE</div>
</body></html>
